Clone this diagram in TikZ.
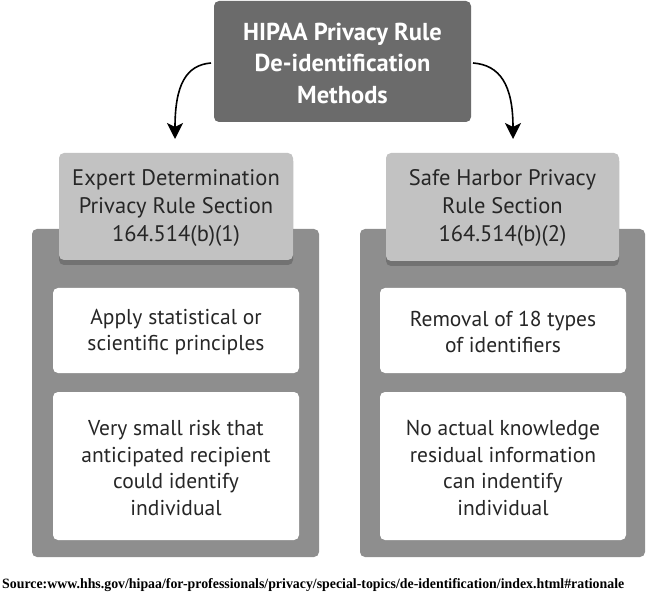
\documentclass[tikz,border=0pt]{standalone}
\usepackage{fontspec}
\setmainfont{PT Sans}
\newfontfamily\srcfont{Liberation Serif}
\usetikzlibrary{arrows.meta}
\definecolor{topgray}{HTML}{6B6B6B}
\definecolor{outergray}{HTML}{8E8E8E}
\definecolor{headgray}{HTML}{C2C2C2}
\definecolor{shadowgray}{HTML}{727272}
\tikzset{
  topbox/.style={fill=topgray, rounded corners=5pt, draw=none},
  outerbox/.style={fill=outergray, rounded corners=5pt, draw=none},
  headbox/.style={fill=headgray, rounded corners=5pt, draw=none},
  shadowbox/.style={fill=shadowgray, rounded corners=5pt, draw=none},
  whitebox/.style={fill=white, rounded corners=5pt, draw=none},
  toptext/.style={text=white, font=\fontsize{24.5}{31.5}\selectfont\bfseries, align=center},
  headtext/.style={text=black!85, font=\fontsize{22.5}{28}\selectfont, align=center},
  bodytext/.style={text=black!85, font=\fontsize{21.5}{26.5}\selectfont, align=center},
  flowarrow/.style={line width=1.6pt, -{Stealth[length=16pt,width=16pt,inset=4pt]}},
}
\begin{document}
\begin{tikzpicture}[x=1pt,y=-1pt]
\useasboundingbox (0,0) rectangle (647,593);
% top box
\fill[topbox] (214,1) rectangle (471,122);
\node[toptext] (top) at (342.5,63) {HIPAA Privacy Rule\\De-identification\\Methods};
% left column
\fill[outerbox] (32,229) rectangle (319,557);
\fill[shadowbox] (59,156) rectangle (293,265);
\fill[headbox] (59,153) rectangle (293,260);
\node[headtext] (lhead) at (176,208) {Expert Determination\\Privacy Rule Section\\164.514(b)(1)};
\fill[whitebox] (53,288) rectangle (299,373);
\node[bodytext] (l1) at (176,332) {Apply statistical or\\scientific principles};
\fill[whitebox] (53,392) rectangle (299,540);
\node[bodytext] (l2) at (176,468) {Very small risk that\\anticipated recipient\\could identify\\individual};
% right column
\fill[outerbox] (360,229) rectangle (645,557);
\fill[shadowbox] (386,156) rectangle (619,266);
\fill[headbox] (386,153) rectangle (619,261);
\node[headtext] (rhead) at (502.5,208) {Safe Harbor Privacy\\Rule Section\\164.514(b)(2)};
\fill[whitebox] (380,288) rectangle (626,373);
\node[bodytext] (r1) at (503,332) {Removal of 18 types\\of identifiers};
\fill[whitebox] (380,392) rectangle (626,540);
\node[bodytext] (r2) at (503,468) {No actual knowledge\\residual information\\can indentify\\individual};
% arrows
\coordinate (lstart) at (211,63);
\coordinate (lend) at (175,139);
\coordinate (rstart) at (473,63);
\coordinate (rend) at (513,139);
\draw[flowarrow] (lstart) .. controls (186,65) and (175,85) .. (lend);
\draw[flowarrow] (rstart) .. controls (500,65) and (513,85) .. (rend);
% source
\node[anchor=base west, inner sep=0pt] (src) at (2,588) {\resizebox{622pt}{10pt}{\srcfont\bfseries\fontsize{13}{15}\selectfont Source:www.hhs.gov/hipaa/for-professionals/privacy/special-topics/de-identification/index.html\#rationale}};
\end{tikzpicture}
\end{document}
